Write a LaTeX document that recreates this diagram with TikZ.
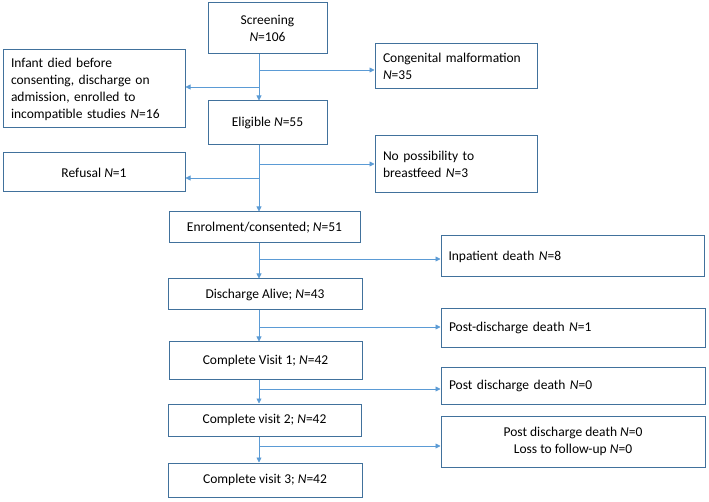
\documentclass[tikz,border=0pt]{standalone}
\usepackage{fontspec}
\setmainfont{Carlito}
\usepackage{tikz}
\usetikzlibrary{arrows.meta}

\definecolor{boxline}{RGB}{65,113,156}
\definecolor{flowline}{RGB}{91,155,213}
\newcommand{\nN}{\textit{N}}

\tikzset{
  flowbox/.style={draw=boxline, line width=1pt, inner sep=0pt, align=center,
    font=\fontsize{13.5}{17}\selectfont},
  sidebox/.style={flowbox, align=left, text width=#1},
  flow/.style={draw=flowline, line width=0.8pt},
  flowarr/.style={flow, -{Triangle[length=5pt,width=5pt]}}
}

\begin{document}
\begin{tikzpicture}[x=1pt,y=1pt,yscale=-1]
\useasboundingbox (0,0) rectangle (709,502);

% main column
\node [flowbox, minimum width=119pt, minimum height=51pt] (screen) at (267.5,28.5) {Screening\\\nN=106};
\node [flowbox, minimum width=119pt, minimum height=44pt] (eligible) at (267.5,123) {Eligible \nN=55};
\node [flowbox, minimum width=191pt, minimum height=31pt] (enrol) at (264.5,227.5) {Enrolment/consented; \nN=51};
\node [flowbox, minimum width=194pt, minimum height=31pt] (alive) at (265,294.5) {Discharge Alive; \nN=43};
\node [flowbox, minimum width=193pt, minimum height=37pt] (visit1) at (265.5,360.5) {Complete Visit 1; \nN=42};
\node [flowbox, minimum width=193pt, minimum height=32pt] (visit2) at (264.5,420) {Complete visit 2; \nN=42};
\node [flowbox, minimum width=194pt, minimum height=34pt] (visit3) at (265,480) {Complete visit 3; \nN=42};

% exclusions, left
\node [sidebox=166pt, minimum width=182pt, minimum height=78pt] (infant) at (94,89) {Infant died before\\consenting, discharge on\\admission, enrolled to\\incompatible studies \nN=16};
\node [flowbox, minimum width=182pt, minimum height=39pt] (refusal) at (94,172.5) {Refusal \nN=1};

% exclusions, right
\node [sidebox=146pt, minimum width=162pt, minimum height=45pt] (congen) at (456,66.5) {Congenital malformation\\\nN=35};
\node [sidebox=146pt, minimum width=162pt, minimum height=57pt] (nobreast) at (456,164.5) {No possibility to\\breastfeed \nN=3};
\node [sidebox=248pt, minimum width=263pt, minimum height=41pt] (inpat) at (572.5,256.5) {Inpatient death \nN=8};
\node [sidebox=248pt, minimum width=264pt, minimum height=38pt] (pdd1) at (573,328) {Post-discharge death \nN=1};
\node [sidebox=248pt, minimum width=264pt, minimum height=37pt] (pdd0) at (573,385.5) {Post discharge death \nN=0};
\node [flowbox, minimum width=264pt, minimum height=51pt] (loss) at (573,441.5) {Post discharge death \nN=0\\Loss to follow-up \nN=0};

% branch points on the trunk
\coordinate (b1) at (259,70);
\coordinate (b2) at (259,87);
\coordinate (b3) at (259,164);
\coordinate (b4) at (259,178);
\coordinate (b5) at (259,259);
\coordinate (b6) at (259,327);
\coordinate (b7) at (259,389);
\coordinate (b8) at (259,446);

% trunk
\draw [flowarr] (screen.south -| b1) -- (eligible.north -| b1);
\draw [flowarr] (eligible.south -| b1) -- (enrol.north -| b1);
\draw [flowarr] (enrol.south -| b1) -- (alive.north -| b1);
\draw [flowarr] (alive.south -| b1) -- (visit1.north -| b1);
\draw [flowarr] (visit1.south -| b1) -- (visit2.north -| b1);
\draw [flowarr] (visit2.south -| b1) -- (visit3.north -| b1);

% side arrows
\draw [flowarr] (b1) -- (b1 -| congen.west);
\draw [flowarr] (b2) -- (b2 -| infant.east);
\draw [flowarr] (b3) -- (b3 -| nobreast.west);
\draw [flowarr] (b4) -- (b4 -| refusal.east);
\draw [flowarr] (b5) -- (b5 -| inpat.west);
\draw [flowarr] (b6) -- (b6 -| pdd1.west);
\draw [flowarr] (b7) -- (b7 -| pdd0.west);
\draw [flowarr] (b8) -- (b8 -| loss.west);

\end{tikzpicture}
\end{document}
